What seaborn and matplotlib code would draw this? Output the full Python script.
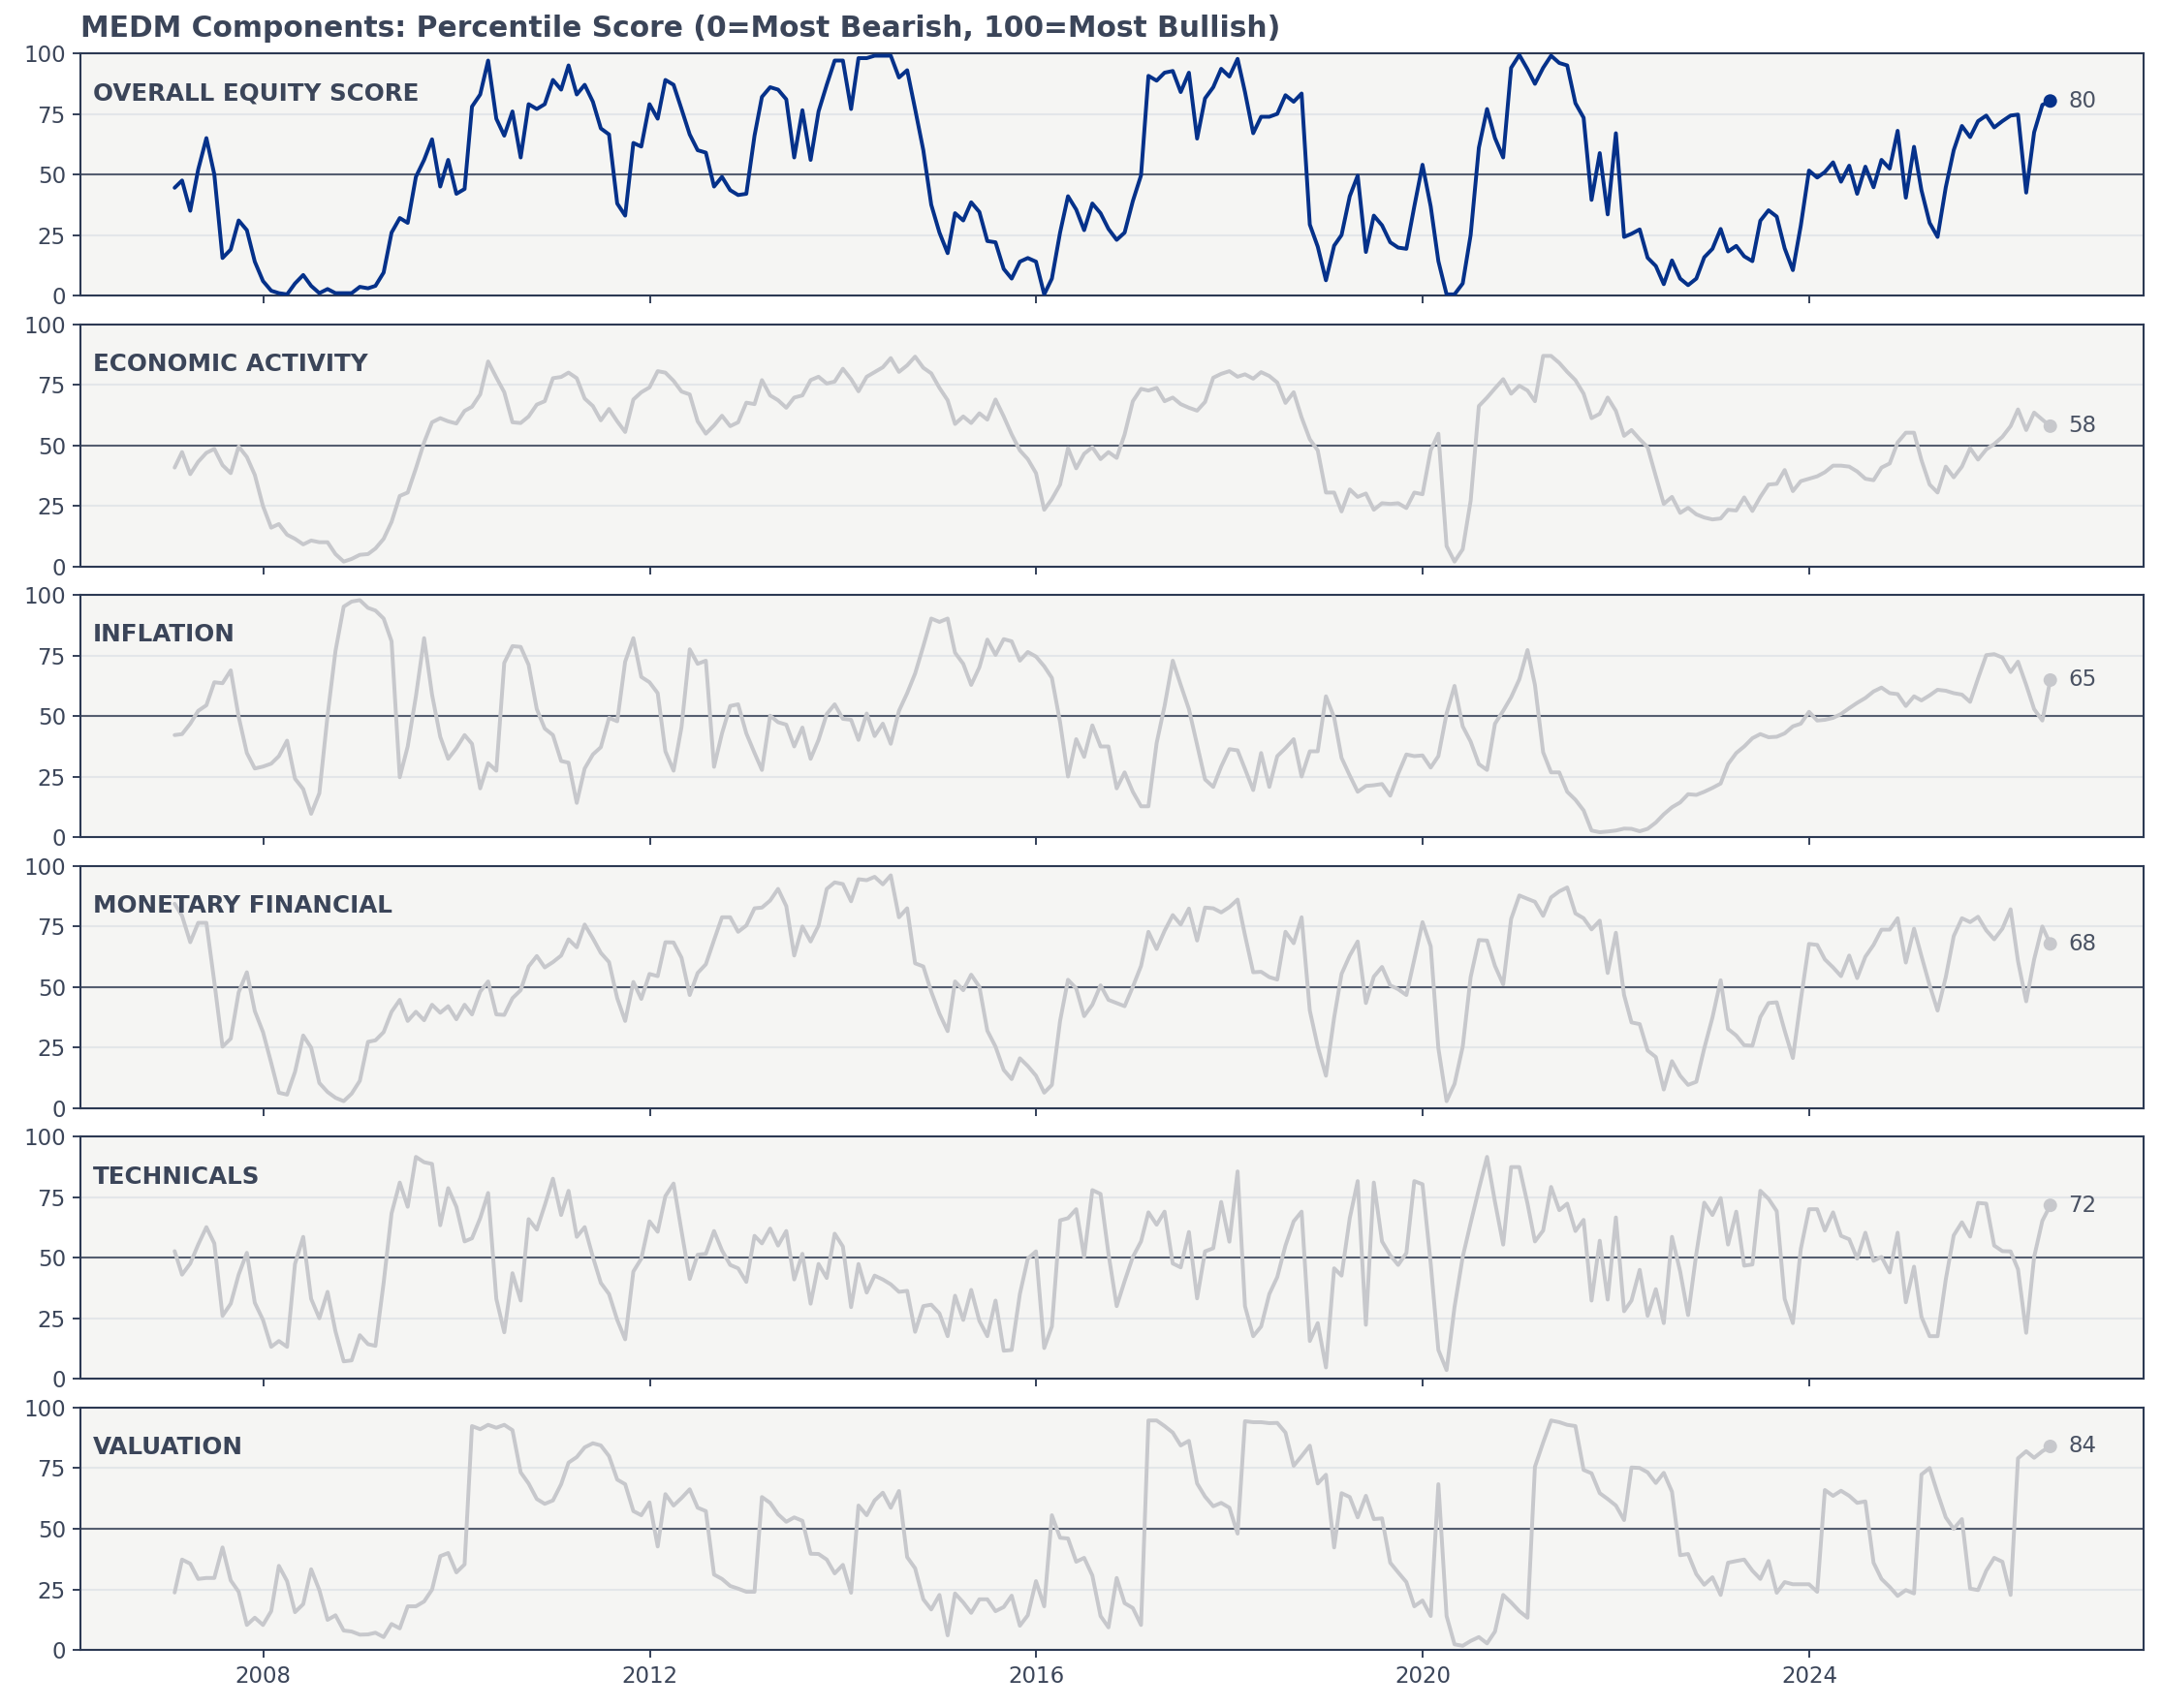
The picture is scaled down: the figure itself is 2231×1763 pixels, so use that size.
import numpy as np
import pandas as pd
import matplotlib
matplotlib.use("Agg")
import matplotlib.pyplot as plt
import matplotlib.dates as mdates
import seaborn as sns

sns.set_theme(style="white")
plt.rcParams['font.family'] = ['DejaVu Sans']

# ---------------- data (monthly, Jan-2007 .. Jun-2026) ----------------
overall = [44.5, 47.5, 35, 52, 65, 50, 15.5, 19, 31, 27,
           14, 6, 2, 1, 0.5, 5, 8.5, 4, 1, 2.7,
           1, 1, 1, 3.6, 3, 4, 9.5, 26, 32, 30,
           49, 56, 64.5, 45, 56, 42, 44, 78, 83, 97,
           73, 66, 76, 57, 79, 77, 79, 89, 85, 95,
           83, 87, 80, 69, 66.5, 38, 33, 63, 61.5, 79,
           73, 89, 87, 77, 66.5, 60, 59, 45, 49, 43.5,
           41.5, 42, 66, 82, 86, 85, 81, 57, 76.5, 56,
           76, 87, 97, 97, 77, 98, 98, 99, 99, 99,
           90, 93, 77, 60, 37.5, 26, 17.5, 34, 31, 38.5,
           34.5, 22.5, 22, 11, 7, 14, 15.5, 14, 0.5, 7,
           26, 41, 35.5, 27, 38, 34, 27.5, 23, 26,
           39, 49.6, 90.7, 88.7, 92, 92.7, 84, 92, 64.8, 81.4,
           86, 93.6, 90.4, 97.7, 84, 67, 73.8, 73.8, 75, 82.7,
           80, 83.4, 29.3, 20.2, 6.3, 20.6, 25, 41, 49.5, 18,
           33, 29, 22, 19.8, 19.3, 36.8, 54, 36.8, 14.2, 0.5,
           0.5, 5, 25, 61, 77, 65, 57, 94, 99.3, 93.4,
           87.4, 94, 99, 96, 95, 79.4, 73.4, 39.5, 58.8, 33.5,
           67, 24.2, 25.5, 27.3, 15.6, 12.2, 4.7, 14.5, 7, 4.3,
           7, 15.8, 19.3, 27.5, 18.2, 20.5, 16.2, 14.2, 30.9, 35.2,
           32.6, 19.5, 10.5, 28.9, 51.6, 48.7, 51, 55, 47, 53.6,
           42, 53.2, 44.7, 56, 52.4, 68, 40.4, 61.4, 43.5, 30,
           24.2, 44.7, 60, 70, 65.4, 72, 74.3, 69.4, 72, 74.3,
           74.7, 42.5, 67.4, 78.7, 80.3]

economic = [40.8, 47.2, 38.1, 43.2, 46.9, 48.5, 41.8, 38.5, 49.5, 45.2,
            37.8, 24.9, 16, 17.5, 13.1, 11.4, 9.1, 10.7, 10, 10,
            5.1, 2, 3.1, 4.8, 5.1, 7.4, 11.4, 18.4, 29.1, 30.5,
            40.5, 51.2, 59.5, 61.2, 59.9, 59, 64.2, 65.9, 71, 84.6,
            78, 71.9, 59.5, 59.2, 61.9, 66.8, 68.2, 77.7, 78.2, 80,
            77.7, 69.3, 66.2, 60.3, 65, 59.9, 55.5, 68.9, 71.9, 73.9,
            80.6, 80, 76.6, 72.2, 71, 59.9, 54.8, 58.2, 62.2, 57.9,
            59.5, 67.6, 67, 76.9, 70.6, 68.6, 65.5, 69.7, 70.6, 76.9,
            78.3, 75.5, 76.3, 81.6, 77.3, 72.3, 78.3, 80.2, 82.2, 86,
            80.3, 83, 86.6, 82, 79.7, 73.7, 68.6, 58.8, 61.9, 59.2,
            63.2, 60.6, 68.9, 61.9, 54.5, 47.9, 44.3, 38.5, 23.4, 27.8,
            33.8, 48.8, 40.5, 46.5, 49.2, 44.3, 47.2, 44.8, 54.5,
            68.2, 73.3, 72.6, 73.7, 68.2, 69.7, 67, 65.5, 64.3, 67.9,
            77.9, 79.5, 80.6, 78.3, 79.3, 77.5, 80.2, 78.6, 75.9, 67.5,
            71.9, 61.5, 52.5, 47.9, 30.5, 30.5, 22.7, 31.8, 28.7, 30.1,
            23.4, 26.1, 25.8, 26.1, 24.1, 30.5, 29.8, 47.9, 54.8, 8.4,
            2, 7.1, 27.1, 66.2, 69.7, 73.5, 77.3, 71.3, 74.6, 72.6,
            68.2, 86.9, 86.9, 84, 80.3, 76.9, 71.3, 61.2, 63, 69.7,
            64.2, 53.9, 56.3, 52.5, 49.2, 37.2, 25.8, 28.7, 22.1, 24.2,
            21.5, 20.2, 19.4, 19.8, 23.4, 23.1, 28.5, 22.9, 28.7, 33.8,
            34.1, 39.8, 31.1, 35.2, 36.2, 37.2, 38.9, 41.6, 41.6, 41.2,
            39.2, 36.2, 35.6, 40.8, 42.5, 51.2, 55.2, 55.2, 43.9, 33.8,
            30.5, 41.2, 36.8, 41.2, 48.8, 44.1, 48.3, 50.5, 53.5, 57.9,
            64.8, 56.3, 63.5, 60.6, 57.9]

inflation = [42.2, 42.6, 46.9, 52.2, 54.5, 64, 63.6, 68.9, 49.8, 34.8,
             28.4, 29.2, 30.4, 33.5, 39.9, 24.2, 19.9, 9.7, 18.2, 50.2,
             76.9, 95.2, 97.3, 97.9, 94.7, 93.6, 90.3, 80.9, 24.8, 37.5,
             58.2, 82.2, 58.9, 41.5, 32.4, 36.8, 42.2, 38.6, 20.2, 30.6,
             27.5, 72, 78.9, 78.6, 71.2, 52.9, 44.9, 42.2, 31.5, 30.8,
             14.2, 28.4, 34.2, 37.2, 49.3, 47.9, 72.5, 82.2, 66.2, 64,
             59.5, 35.5, 27.5, 45.5, 77.6, 71.6, 72.9, 29.1, 42.9, 54.2,
             54.9, 42.9, 34.8, 27.8, 50.2, 47.5, 46.5, 37.5, 45.3, 32.4,
             40.2, 50.9, 54.9, 48.9, 48.5, 40.2, 51.1, 41.8, 46.9, 38.6,
             52.2, 59.5, 67.6, 78.9, 90.3, 88.9, 90.3, 76.2, 71.6, 62.9,
             70.2, 81.6, 75.3, 81.8, 80.9, 72.9, 76.5, 74.6, 70.6, 65.8,
             47.5, 25.1, 40.5, 33.2, 46.2, 37.5, 37.5, 20.2, 26.8,
             18.8, 12.8, 12.8, 38.9, 54.2, 72.9, 62.9, 52.9, 38.2, 23.9,
             20.8, 29.2, 36.4, 35.9, 28.2, 19.5, 34.8, 20.8, 33.5, 36.8,
             40.5, 25.1, 35.5, 35.5, 58.2, 49.5, 32.8, 25.5, 18.8, 21.2,
             21.5, 22, 17.2, 26.2, 34.2, 33.5, 33.8, 28.8, 33.5, 51.1,
             62.5, 45.8, 39.5, 30.2, 27.8, 46.9, 52.2, 57.8, 65.2, 77.3,
             62.9, 35.1, 26.8, 26.8, 18.8, 15.5, 11.1, 2.8, 2.1, 2.4,
             2.8, 3.6, 3.5, 2.5, 3.5, 6.1, 9.5, 12.4, 14.4, 17.8,
             17.5, 18.8, 20.4, 22.2, 30.2, 34.8, 37.5, 40.9, 42.6, 41.3,
             41.5, 42.9, 45.8, 46.9, 51.8, 48.2, 48.5, 49.3, 50.9, 53.3,
             55.5, 57.5, 60.2, 61.8, 59.5, 59.1, 54.2, 58.2, 56.5, 58.6,
             60.9, 60.5, 59.5, 58.9, 55.9, 65.6, 75.2, 75.6, 74.2, 68.2,
             72.5, 62.9, 52.9, 48.2, 64.9]

monetary = [84.4, 79.4, 68.5, 76.5, 76.5, 52.1, 25.4, 28.7, 47.8, 56.1,
            40.1, 31.4, 18.7, 6.4, 5.6, 15, 30, 25, 10.4, 6.7,
            4.3, 2.9, 6, 11.3, 27.4, 28, 31.4, 39.8, 44.7, 36,
            39.8, 36.3, 42.7, 39.4, 42.1, 36.7, 42.7, 38.7, 48.1, 52.3,
            38.7, 38.5, 45.4, 48.7, 58.5, 62.8, 58.1, 60.3, 63, 69.7,
            66.4, 75.8, 70.1, 64.1, 60.3, 45.4, 36, 52.1, 45.1, 55.4,
            54.5, 68.5, 68.4, 62.1, 46.7, 55.8, 59.4, 69.4, 78.8, 78.8,
            72.8, 75.4, 82.5, 82.8, 85.7, 90.5, 83.4, 63, 75, 68.8,
            75.4, 90.5, 93.2, 92.5, 85.4, 94.5, 94.1, 95.5, 92.4, 96.1,
            78.8, 82.5, 59.8, 58.5, 48.1, 39, 31.8, 52.3, 48.7, 55.1,
            50.1, 32, 25.4, 15.8, 12, 20.6, 17.4, 13.4, 6.4, 9.6,
            36, 53, 49.4, 38, 42.7, 50.7, 44.7, 43.4, 42.1,
            50.1, 58.7, 72.8, 65.7, 73.2, 79.7, 75.8, 82.4, 69.2, 82.8,
            82.5, 80.8, 83, 86.1, 71.4, 56.1, 56.3, 54.1, 53.1, 72.8,
            68.1, 78.8, 40.3, 25.4, 13.4, 37.4, 55.4, 63, 68.8, 43.4,
            54.3, 58.3, 50.7, 49.1, 46.7, 61.4, 76.8, 66.8, 24.7, 2.9,
            10, 25.4, 54.1, 69.4, 69.2, 58.7, 51.1, 78.1, 87.8, 86.4,
            85.2, 79.4, 87, 89.5, 91.1, 80.4, 78.4, 73.8, 77.4, 55.8,
            72.4, 46.7, 35.4, 34.7, 23.8, 21.1, 7.7, 19.4, 13.4, 9.6,
            10.9, 24.7, 37.4, 52.8, 32.7, 30, 26, 25.8, 37.6, 43.4,
            43.7, 32, 20.7, 44.7, 67.8, 67.4, 61.4, 58.1, 54.5, 63,
            53.7, 62.5, 67.4, 73.7, 73.7, 78.4, 60.1, 74.1, 62.8, 50.7,
            40.3, 54.1, 71, 78.4, 76.8, 79, 73.4, 69.7, 74.1, 82.1,
            60.7, 44.1, 61.4, 75, 67.8]

technicals = [52.8, 43.1, 47.7, 55.5, 62.7, 56, 26.1, 31.1, 43.1, 52.1,
              31.5, 24.4, 13.3, 15.7, 13.3, 47.5, 58.7, 33.1, 25.1, 36,
              19.7, 7.3, 7.7, 18.1, 14.4, 13.7, 39.7, 68.4, 81.1, 71.1,
              91.7, 89.5, 88.8, 63.5, 78.8, 71.1, 56.8, 58.1, 66.4, 76.8,
              33.1, 19.3, 43.7, 32.4, 66, 61.7, 71.7, 82.7, 67.7, 77.7,
              58.7, 62.7, 50.4, 39.7, 35.1, 24.4, 16.4, 44.4, 49.7, 65.1,
              60.8, 75.5, 80.7, 61.1, 41.3, 51.3, 51.7, 61.1, 53.1, 47.1,
              45.7, 40.1, 59.1, 56, 62.1, 55.1, 61.1, 41.1, 51.7, 31.1,
              47.5, 41.7, 60, 54.7, 29.7, 47.5, 35.7, 42.7, 41.1, 39.1,
              36, 36.4, 19.5, 30.1, 30.7, 27.1, 17.7, 34.4, 24.4, 36.8,
              24, 17.7, 32.4, 11.7, 12, 35.1, 49.7, 52.7, 12.8, 21.7,
              65.5, 66.4, 70.1, 50.4, 78, 76.4, 51.7, 30.1, 40.4,
              50.4, 56.8, 68.8, 63.7, 69.1, 47.7, 46.1, 60.7, 33.3, 52.7,
              54, 73.1, 56.7, 85.7, 30.1, 17.7, 21.7, 35.1, 42.1, 55.1,
              65.1, 69.1, 15.7, 23.1, 4.8, 45.7, 42.7, 66.4, 81.7, 22.4,
              81.1, 56.8, 51.1, 47.1, 52, 81.7, 80.4, 47.7, 12, 3.7,
              29.7, 50.4, 64.4, 78.4, 91.7, 73.1, 55.5, 87.5, 87.5, 72.4,
              56.8, 61.3, 79.3, 69.7, 72.4, 61.1, 65.7, 32.4, 57.1, 32.8,
              66.7, 28, 32.4, 45.1, 26.1, 37.1, 23.1, 58.7, 44.4, 26.4,
              51.7, 72.8, 67.7, 74.7, 55.5, 69.1, 46.8, 47.3, 77.7, 74.4,
              69.3, 33.1, 23.1, 53.7, 70.1, 70.1, 61.3, 68.8, 59.1, 57.7,
              49.7, 60.4, 48.8, 50.4, 44, 60.4, 31.7, 46.4, 25.7, 17.7,
              17.7, 41.1, 59.3, 64.7, 58.8, 72.7, 72.4, 55.1, 52.8, 52.7,
              45.3, 19.1, 50.4, 65.3, 71.7]

valuation = [23.7, 37.3, 35.6, 29.3, 29.7, 29.7, 42.3, 28.7, 24, 10.3,
             13.3, 10.3, 16, 34.7, 28.4, 15.6, 18.9, 33.3, 24.7, 12.4,
             14.3, 8, 7.6, 6.3, 6.4, 7.1, 5.3, 10.7, 8.9, 18,
             18, 20, 24.9, 38.7, 40, 32, 35.3, 92.4, 91.1, 92.9,
             91.7, 92.9, 90.7, 73.3, 68.7, 62.3, 60.3, 61.7, 68.4, 77.3,
             79.6, 83.6, 85.3, 84.4, 80, 70.3, 68.4, 57.3, 55.6, 60.9,
             42.7, 64.3, 59.6, 62.7, 66.3, 58.7, 57.3, 31.1, 29.3, 26.4,
             25.3, 24, 24, 63.1, 60.7, 56, 52.9, 54.7, 53.3, 39.7,
             39.6, 37.3, 31.6, 35.1, 23.6, 59.6, 55.6, 61.7, 64.9, 58.7,
             65.6, 38.3, 33.7, 20.9, 16.7, 22.7, 6, 23.3, 19.6, 15.3,
             20.9, 20.9, 16, 17.7, 22.4, 10, 14.3, 28.4, 18, 55.6,
             46.3, 46, 36.4, 38, 30.7, 14, 9.3, 29.7, 19.3,
             17.3, 10.3, 94.7, 94.7, 92.4, 89.7, 84.4, 86.3, 68.7, 63.3,
             59.3, 60.7, 58.7, 48, 94.4, 94, 94, 93.6, 93.7, 89.7,
             76, 80, 84.3, 68.7, 72.3, 42.3, 64.7, 63.1, 54.7, 63.6,
             54, 54.3, 36, 32, 28, 18, 20.4, 14, 68.4, 14,
             2.3, 1.7, 3.7, 5.3, 2.7, 7.6, 22.7, 19.6, 16, 13.3,
             75.6, 85.6, 94.7, 94, 92.9, 92.4, 74.3, 72.9, 64.7, 62.3,
             59.6, 53.6, 75.3, 75.1, 73.3, 68.9, 73.1, 65.3, 39.1, 39.6,
             31.3, 26.9, 30, 22.7, 36, 36.7, 37.3, 32.7, 29.3, 36.7,
             23.6, 28, 27.1, 27.1, 27.1, 24, 66, 63.6, 65.7, 63.6,
             60.7, 61.3, 36, 29.3, 26, 22.3, 24.7, 23.3, 72.4, 75.1,
             64.7, 54.7, 50, 54, 25.3, 24.7, 32.7, 38, 36.4, 22.7,
             79.1, 82, 79.3, 82, 84]

panel_names = ["OVERALL EQUITY SCORE", "ECONOMIC ACTIVITY", "INFLATION",
               "MONETARY FINANCIAL", "TECHNICALS", "VALUATION"]
series = [overall, economic, inflation, monetary, technicals, valuation]
title = "MEDM Components: Percentile Score (0=Most Bearish, 100=Most Bullish)"

dates = pd.date_range("2007-01-01", periods=len(overall), freq="MS") + pd.offsets.MonthEnd(0)

# ---------------- style ----------------
NAVY = "#05318a"
GREY = "#c7c8cc"
TEXT = "#3b4559"
SPINE = "#2c3953"
BG = "#f5f5f3"

fig = plt.figure(figsize=(2231 / 150, 1763 / 150), dpi=150)
fig.patch.set_facecolor("white")
gs = fig.add_gridspec(6, 1, left=0.0374, right=0.9917, top=0.9688, bottom=0.034, hspace=0.118)

axes = []
for k, (name, vals) in enumerate(zip(panel_names, series)):
    ax = fig.add_subplot(gs[k, 0], sharex=axes[0] if axes else None)
    axes.append(ax)
    color = NAVY if k == 0 else GREY
    ax.set_facecolor(BG)
    df = pd.DataFrame({"date": dates, "score": vals})
    sns.lineplot(data=df, x="date", y="score", ax=ax, color=color, linewidth=1.9, zorder=3)
    ax.axhline(50, color="#555e70", lw=1.0, zorder=2)
    ax.set_ylim(0, 100)
    ax.set_yticks([0, 25, 50, 75, 100])
    ax.yaxis.grid(True, color="#e3e6e9", lw=1.0)
    ax.xaxis.grid(False)
    ax.set_axisbelow(True)
    for s in ax.spines.values():
        s.set_color(SPINE)
        s.set_linewidth(1.0)
    ax.tick_params(axis="both", colors=SPINE, labelcolor=TEXT, labelsize=11,
                   length=4, width=0.9, left=True, bottom=True)
    ax.set_xlabel("")
    ax.set_ylabel("")
    # end point marker and value
    sns.scatterplot(x=[dates[-1]], y=[vals[-1]], ax=ax, color=color, s=45,
                    edgecolor="none", zorder=4, legend=False)
    ax.annotate(f"{vals[-1]:.0f}", (dates[-1], vals[-1]), xytext=(9, 0),
                textcoords="offset points", va="center", ha="left",
                fontsize=11, color="#4a5263")
    ax.text(0.0058, 0.835, name, transform=ax.transAxes, fontsize=11.8,
            fontweight="bold", color=TEXT, va="center", ha="left", zorder=5)

axes[0].xaxis.set_major_locator(mdates.YearLocator(4))
axes[0].xaxis.set_major_formatter(mdates.DateFormatter("%Y"))
for ax in axes[:-1]:
    plt.setp(ax.get_xticklabels(), visible=False)

fig.text(0.0374, 0.983, title, fontsize=14.3, fontweight="bold", color=TEXT,
         ha="left", va="center")

fig.savefig("out.png", dpi=150, facecolor="white")
